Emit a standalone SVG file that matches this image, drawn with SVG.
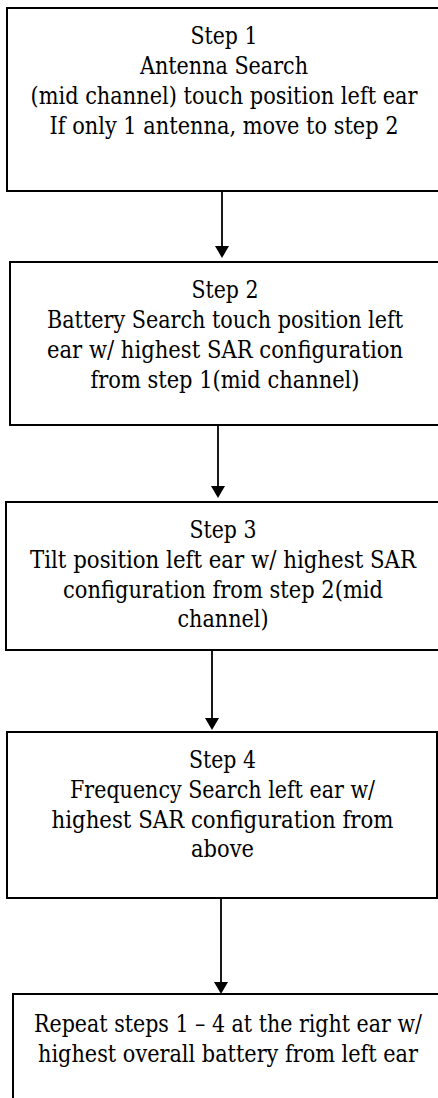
<svg xmlns="http://www.w3.org/2000/svg" width="438" height="1098" viewBox="0 0 438 1098">
<style>
.box{fill:#fff;stroke:#000;stroke-width:2}
.t{font-family:"DejaVu Serif",serif;font-size:23.5px;fill:#000;text-anchor:middle}
.c{stroke:#000;stroke-width:1.8;fill:none}
.h{fill:#000}
</style>
<rect width="438" height="1098" fill="#fff"/>
<g id="connectors">
<line class="c" x1="222" y1="191" x2="222" y2="246"/>
<path class="h" d="M215,246 L229,246 L222,258 Z"/>
<line class="c" x1="218" y1="425" x2="218" y2="486"/>
<path class="h" d="M211,486 L225,486 L218,498 Z"/>
<line class="c" x1="212" y1="650" x2="212" y2="718"/>
<path class="h" d="M205,718 L219,718 L212,730 Z"/>
<line class="c" x1="221" y1="898" x2="221" y2="982"/>
<path class="h" d="M214,982 L228,982 L221,994 Z"/>
</g>
<g id="step1">
<rect class="box" x="7" y="8" width="440" height="183"/>
<text class="t" x="224" y="44" textLength="67" lengthAdjust="spacingAndGlyphs">Step 1</text>
<text class="t" x="224" y="74" textLength="168" lengthAdjust="spacingAndGlyphs">Antenna Search</text>
<text class="t" x="224" y="104" textLength="387" lengthAdjust="spacingAndGlyphs">(mid channel) touch position left ear</text>
<text class="t" x="224" y="134" textLength="349" lengthAdjust="spacingAndGlyphs">If only 1 antenna, move to step 2</text>
</g>
<g id="step2">
<rect class="box" x="10" y="262" width="440" height="163"/>
<text class="t" x="225" y="298" textLength="67" lengthAdjust="spacingAndGlyphs">Step 2</text>
<text class="t" x="225" y="328" textLength="356" lengthAdjust="spacingAndGlyphs">Battery Search touch position left</text>
<text class="t" x="225" y="358" textLength="356" lengthAdjust="spacingAndGlyphs">ear w/ highest SAR configuration</text>
<text class="t" x="225" y="388" textLength="269" lengthAdjust="spacingAndGlyphs">from step 1(mid channel)</text>
</g>
<g id="step3">
<rect class="box" x="6" y="502" width="440" height="148"/>
<text class="t" x="223" y="538" textLength="67" lengthAdjust="spacingAndGlyphs">Step 3</text>
<text class="t" x="223" y="568" textLength="386" lengthAdjust="spacingAndGlyphs">Tilt position left ear w/ highest SAR</text>
<text class="t" x="223" y="598" textLength="320" lengthAdjust="spacingAndGlyphs">configuration from step 2(mid</text>
<text class="t" x="223" y="627" textLength="91" lengthAdjust="spacingAndGlyphs">channel)</text>
</g>
<g id="step4">
<rect class="box" x="7" y="732" width="430" height="166"/>
<text class="t" x="222.5" y="768" textLength="67" lengthAdjust="spacingAndGlyphs">Step 4</text>
<text class="t" x="222.5" y="798" textLength="305" lengthAdjust="spacingAndGlyphs">Frequency Search left ear w/</text>
<text class="t" x="222.5" y="828" textLength="342" lengthAdjust="spacingAndGlyphs">highest SAR configuration from</text>
<text class="t" x="222.5" y="857" textLength="63" lengthAdjust="spacingAndGlyphs">above</text>
</g>
<g id="repeat">
<rect class="box" x="13" y="994" width="440" height="130"/>
<text class="t" x="228" y="1032" textLength="388" lengthAdjust="spacingAndGlyphs">Repeat steps 1 – 4 at the right ear w/</text>
<text class="t" x="228" y="1062" textLength="380" lengthAdjust="spacingAndGlyphs">highest overall battery from left ear</text>
</g>
</svg>
